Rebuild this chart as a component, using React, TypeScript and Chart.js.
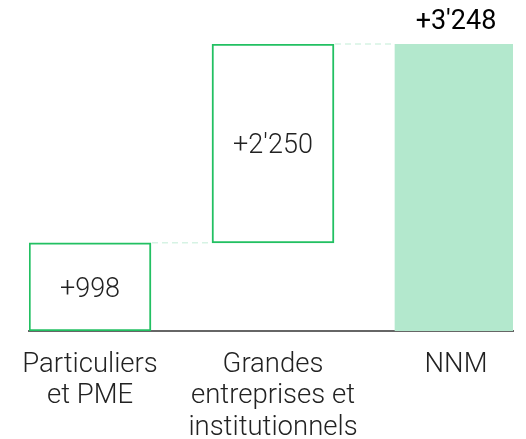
import React, { useEffect, useRef } from "react";
import { Chart, registerables } from "chart.js";

Chart.register(...registerables);

const categories: string[][] = [
  ["Particuliers", "et PME"],
  ["Grandes", "entreprises et", "institutionnels"],
  ["NNM"],
];
const starts: number[] = [0, 998, 0];
const ends: number[] = [998, 3248, 3248];
const valueLabels: string[] = ["+998", "+2'250", "+3'248"];
const isTotal: boolean[] = [false, false, true];

const GREEN = "#22c062";
const FILL = "#b3e8cd";

const labelPlugin = {
  id: "wfLabels",
  afterDatasetsDraw(chart: any) {
    const ctx = chart.ctx;
    const meta = chart.getDatasetMeta(0);
    const y = chart.scales.y;
    ctx.save();
    // connectors
    ctx.strokeStyle = "#d6f3e4";
    ctx.lineWidth = 1.5;
    ctx.setLineDash([6, 4]);
    for (let i = 0; i < meta.data.length - 1; i++) {
      const a = meta.data[i] as any;
      const b = meta.data[i + 1] as any;
      const yy = y.getPixelForValue(ends[i]);
      ctx.beginPath();
      ctx.moveTo(a.x + a.width / 2 + 1, yy);
      ctx.lineTo(b.x - b.width / 2 - 1, yy);
      ctx.stroke();
    }
    ctx.setLineDash([]);
    ctx.textAlign = "center";
    ctx.textBaseline = "middle";
    meta.data.forEach((el: any, i: number) => {
      if (isTotal[i]) {
        ctx.font = "400 27px Roboto";
        ctx.fillStyle = "#000";
        ctx.fillText(valueLabels[i], el.x, el.y - 22);
      } else {
        ctx.font = "300 27px Roboto";
        ctx.fillStyle = "#222";
        ctx.fillText(valueLabels[i], el.x, (el.y + el.base) / 2 + 3);
      }
    });
    ctx.restore();
  },
};

export default function App() {
  const ref = useRef<HTMLCanvasElement | null>(null);
  useEffect(() => {
    if (!ref.current) return;
    const chart = new Chart(ref.current, {
      type: "bar",
      data: {
        datasets: [
          {
            data: starts.map((s, i) => ({ x: i, y: [s, ends[i]] })) as any,
            backgroundColor: isTotal.map((t) => (t ? FILL : "#ffffff")),
            borderColor: isTotal.map((t) => (t ? FILL : GREEN)),
            borderWidth: isTotal.map((t) => (t ? 0 : 2)),
            borderSkipped: false,
            barThickness: 122,
          },
        ],
      },
      options: {
        animation: false,
        responsive: true,
        maintainAspectRatio: false,
        layout: { padding: { left: 29, right: 13, top: 44, bottom: 0 } },
        plugins: { legend: { display: false }, tooltip: { enabled: false } },
        scales: {
          x: {
            type: "linear",
            offset: false,
            min: -0.3333,
            max: 2.3115,
            grid: { display: false, offset: false },
            border: { color: "#666", width: 2 },
            afterBuildTicks: (scale: any) => {
              scale.ticks = categories.map((_, i) => ({ value: i }));
            },
            afterFit: (scale: any) => {
              scale.height = 108;
            },
            ticks: {
              autoSkip: false,
              maxRotation: 0,
              padding: 10,
              color: "#222",
              font: { family: "Roboto", size: 27.5, weight: "300", lineHeight: 1.145 },
              callback: (v: any) => categories[v as number] ?? "",
            },
          },
          y: {
            display: false,
            min: 0,
            max: 3248,
          },
        },
      },
      plugins: [labelPlugin],
    });
    return () => chart.destroy();
  }, []);
  return (
    <div style={{ position: "fixed", left: 0, top: 0, width: 526, height: 439, background: "#fff" }}>
      <canvas ref={ref} />
    </div>
  );
}
